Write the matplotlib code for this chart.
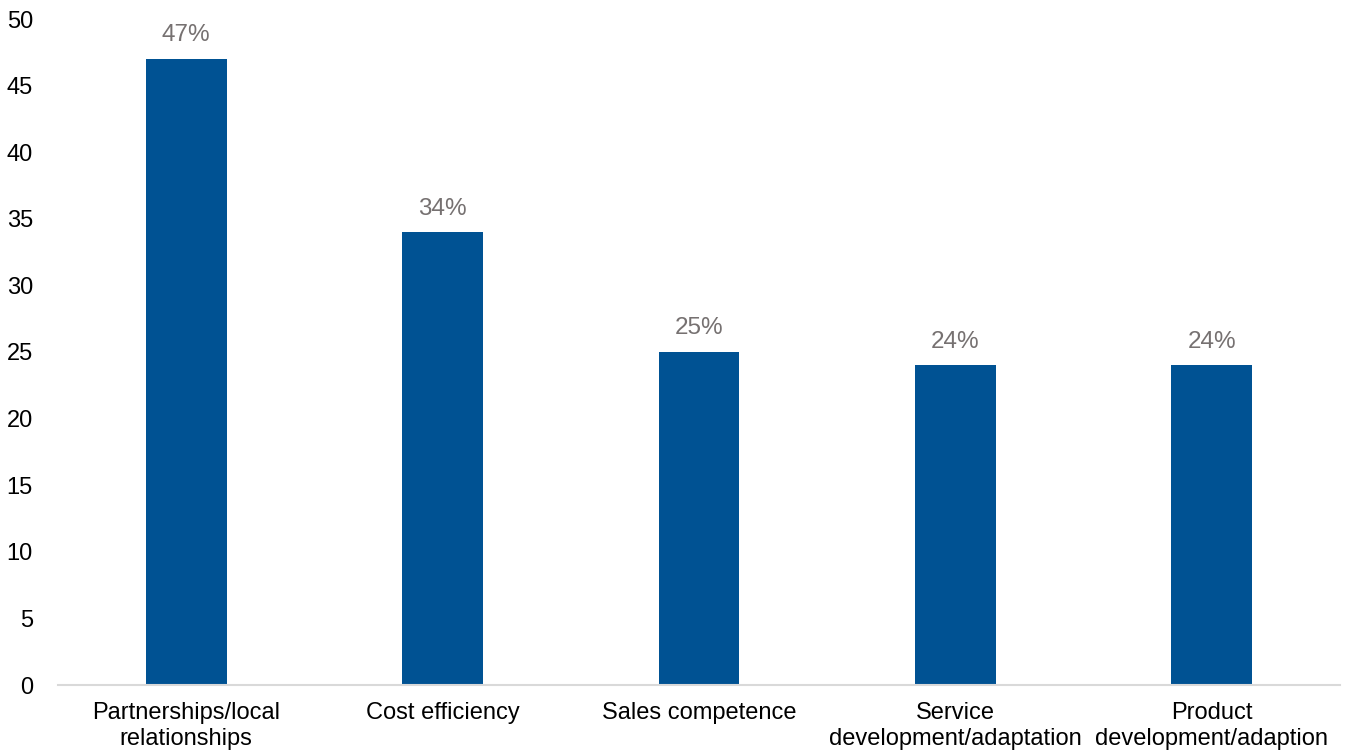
import matplotlib

matplotlib.use("Agg")
import matplotlib.pyplot as plt

categories = [
    "Partnerships/local\nrelationships",
    "Cost efficiency",
    "Sales competence",
    "Service\ndevelopment/adaptation",
    "Product\ndevelopment/adaption",
]
shares = [47, 34, 25, 24, 24]
y_ticks = list(range(0, 55, 5))

plt.rcParams["font.family"] = ["Liberation Sans", "DejaVu Sans"]

fig = plt.figure(figsize=(13.49, 7.53), dpi=100)
ax = fig.add_axes([58 / 1349, 1 - 685 / 753, 1282 / 1349, 666 / 753])

x_positions = list(range(len(categories)))
bars = ax.bar(x_positions, shares, width=0.315, color="#005293")

for bar, value in zip(bars, shares):
    ax.annotate(
        f"{value}%",
        xy=(bar.get_x() + bar.get_width() / 2, value),
        xytext=(0, 9),
        textcoords="offset points",
        ha="center",
        va="bottom",
        fontsize=17.5,
        color="#767171",
    )

ax.set_xlim(-0.5, len(categories) - 0.5)
ax.set_ylim(0, 50)
ax.set_yticks(y_ticks)
ax.set_xticks(x_positions)
ax.set_xticklabels(categories, fontsize=17, linespacing=1.25)
ax.tick_params(axis="y", labelsize=17, length=0, pad=18)
ax.tick_params(axis="x", length=0, pad=12)

for side in ["top", "right", "left"]:
    ax.spines[side].set_visible(False)
ax.spines["bottom"].set_color("#d9d9d9")
ax.spines["bottom"].set_linewidth(1.5)

fig.savefig("out.png", dpi=100)
plt.close(fig)
